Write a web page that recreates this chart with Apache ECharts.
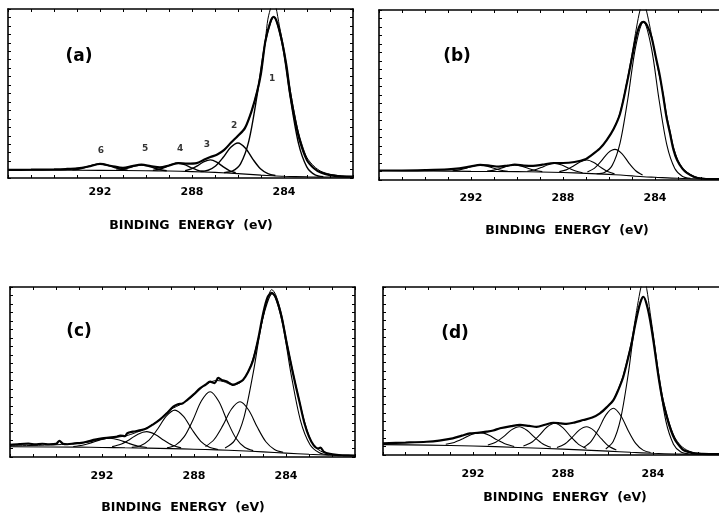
<!DOCTYPE html>
<html>
<head>
<meta charset="utf-8">
<script src="https://cdn.jsdelivr.net/npm/echarts@6/dist/echarts.min.js"></script>
<style>html,body{margin:0;padding:0;background:#fff;}#c{width:719px;height:515px;}</style>
</head>
<body>
<div id="c"></div>
<script>
// ---- Tick labels and texts ----
const tickLabels = [284, 288, 292];
const axisTitle = 'BINDING  ENERGY  (eV)';
const panelNames = ['(a)', '(b)', '(c)', '(d)'];
const peakLabelsA = ['6', '5', '4', '3', '2', '1'];
const peakLabelPosA = [[291.96,16.0],[290.04,17.2],[288.52,17.2],[287.35,19.5],[286.17,30.8],[284.52,58.6]];

// ---- Panel (a) ----
const a_bg = [[296,4.7],[294,4.6],[292,4.5],[290,4.3],[289,4.1],[288,3.8],[287,3.3],[286,2.6],[285,1.7],[284.5,1.3],[284,1.0],[283,0.7],[282,0.6],[281,0.6]];
const a_env = [[296,4.8],[295,4.9],[294,5.1],[293.5,5.3],[293,5.7],[292.5,6.8],[292,8.3],[291.5,7.1],[291,6.0],[290.6,7.0],[290.2,7.9],[289.8,7.1],[289.4,6.3],[289,7.4],[288.6,8.8],[288.2,8.5],[287.8,8.8],[287.5,10.6],[287.2,12.4],[286.9,13.9],[286.6,16.6],[286.3,21],[286,25],[285.7,29.5],[285.4,40],[285.17,51],[285,62],[284.81,81],[284.6,92],[284.45,95.3],[284.3,92],[284.09,81],[283.9,67],[283.73,50],[283.5,33],[283.3,21.5],[283,10.5],[282.7,5.8],[282.4,3.2],[282,1.7],[281.5,1.0],[281,0.8]];
const a_data = [[286,25],[285.7,29.5],[285.4,40],[285.2,50],[285,62],[284.8,83],[284.7,94],[284.55,102],[284.45,105],[284.35,101],[284.2,90],[284,76],[283.8,58],[283.6,42],[283.4,28.5],[283.2,19],[283,12],[282.7,7],[282.4,4],[282,2.2],[281.5,1.2],[281,0.9]];
const a_p1 = [[286.61,3.2],[286.25,4.0],[285.89,8.4],[285.53,21.8],[285.17,48.85],[284.81,80.55],[284.45,95.25],[284.09,80.05],[283.73,47.85],[283.37,20.45],[283.01,6.6],[282.65,1.85],[282.29,0.8]];
const a_p2 = [[287.625,3.85],[287.3,4.6],[286.975,7.1],[286.65,12.1],[286.325,18.05],[286.0,20.7],[285.675,17.55],[285.35,11.05],[285.025,5.5],[284.7,2.6],[284.375,1.45]];
const a_p3 = [[288.3,4.3],[288.025,5.35],[287.75,7.35],[287.475,9.65],[287.2,10.7],[286.925,9.35],[286.65,6.7],[286.375,4.4],[286.1,3.1]];
const a_p4 = [[289.7,4.5],[289.425,5.15],[289.15,6.5],[288.875,8.0],[288.6,8.75],[288.325,7.9],[288.05,6.2],[287.775,4.7],[287.5,3.85]];
const a_p5 = [[291.3,4.6],[291.025,5.1],[290.75,6.05],[290.475,7.2],[290.2,7.7],[289.925,7.1],[289.65,5.9],[289.375,4.9],[289.1,4.3]];
const a_p6 = [[293.2,4.85],[292.9,5.35],[292.6,6.45],[292.3,7.7],[292.0,8.3],[291.7,7.7],[291.4,6.35],[291.1,5.2],[290.8,4.6]];

// ---- Panel (b) ----
const b_bg = [[296,5.5],[294,5.3],[292,5.1],[290,4.9],[289,4.7],[288,4.4],[287,3.9],[286,3.3],[285.5,2.9],[285,2.4],[284.5,1.9],[284,1.6],[283,1.0],[282,0.7],[281,0.6]];
const b_env = [[296,5.6],[295,5.6],[294,5.8],[293,6.2],[292.5,6.8],[292,8.0],[291.6,8.9],[291.2,8.5],[290.8,7.9],[290.4,8.5],[290.1,9.0],[289.7,8.5],[289.3,8.3],[288.9,9.0],[288.4,10.0],[288,10.0],[287.5,10.6],[287,12.4],[286.8,14.2],[286.4,18.5],[286.1,23.5],[285.8,30],[285.52,39],[285.22,57],[285,72],[284.78,86.5],[284.62,92],[284.5,93],[284.35,91],[284.15,84],[283.96,72],[283.8,62],[283.65,50],[283.5,37],[283.35,27.6],[283.2,18],[283.04,11.8],[282.8,6.5],[282.6,4],[282.3,1.8],[282,0.9],[281.5,0.6],[281,0.6]];
const b_data = [[286.1,23.5],[285.8,30],[285.52,39.5],[285.22,58],[285,74],[284.8,90],[284.65,100],[284.52,105],[284.4,101],[284.25,92],[284.05,78],[283.85,64],[283.65,51],[283.5,38.5],[283.35,29],[283.2,19.5],[283.0,11.5],[282.8,7],[282.6,4.5],[282.3,2.2],[282,1.1],[281.5,0.7],[281,0.6]];
const b_p1 = [[286.54,3.7],[286.2,4.4],[285.86,8.6],[285.52,21.7],[285.18,47.8],[284.84,78.5],[284.5,92.9],[284.16,78.0],[283.82,46.9],[283.48,20.3],[283.14,6.75],[282.8,2.1],[282.46,1.0]];
const b_p2 = [[286.94,4.75],[286.64,6.8],[286.34,11.05],[286.04,16.0],[285.74,18.0],[285.44,15.55],[285.14,10.1],[284.84,5.45],[284.54,2.9]];
const b_p3 = [[288.16,4.95],[287.86,5.95],[287.56,8.1],[287.26,10.6],[286.96,11.8],[286.66,10.3],[286.36,7.45],[286.06,5.0],[285.76,3.6]];
const b_p4 = [[289.55,5.1],[289.25,5.85],[288.95,7.3],[288.65,9.0],[288.35,9.8],[288.05,8.85],[287.75,6.9],[287.45,5.25],[287.15,4.3]];
const b_p5 = [[291.3,5.25],[291.0,5.8],[290.7,6.9],[290.4,8.2],[290.1,8.8],[289.8,8.15],[289.5,6.75],[289.2,5.6],[288.9,4.95]];
const b_p6 = [[292.8,5.4],[292.5,5.95],[292.2,7.0],[291.9,8.25],[291.6,8.8],[291.3,8.15],[291.0,6.9],[290.7,5.75],[290.4,5.15]];

// ---- Panel (c) ----
const c_bg = [[296,6.0],[293,5.8],[292,5.6],[291,5.4],[290,5.2],[289,4.9],[288,4.6],[287,4.2],[286,3.7],[285,3.0],[284,2.3],[283,1.6],[282,1.0],[281,0.8]];
const c_data = [[296,7.1],[295.6,7.6],[295.2,7.9],[294.9,7.4],[294.6,7.8],[294.3,7.5],[294.0,7.7],[293.85,9.5],[293.7,7.8],[293.5,7.5],[293.2,8.0],[292.9,8.3],[292.6,9.2],[292.3,10.2],[292.0,11.0],[291.7,11.4],[291.4,11.8],[291.2,12.6],[291.0,12.2],[290.9,14.0],[290.65,14.9],[290.3,15.8],[290.05,16.9],[289.8,19.0],[289.5,21.8],[289.2,25.5],[288.9,29.6],[288.7,31.0],[288.5,31.5],[288.3,33.5],[288.0,37.0],[287.74,40.4],[287.5,42.5],[287.3,44.3],[287.1,43.5],[286.95,46.5],[286.8,45.3],[286.6,44.5],[286.4,43.0],[286.3,42.4],[286.1,43.5],[285.87,45.3],[285.65,50],[285.43,57],[285.2,70],[285.0,84],[284.8,94],[284.62,96.5],[284.45,94],[284.2,83],[283.97,67],[283.7,49.4],[283.4,31.6],[283.2,20],[283.0,12],[282.8,7],[282.6,5.0],[282.5,5.5],[282.35,3.0],[282.1,1.8],[281.8,1.2],[281.5,1.0],[281,0.8]];
const c_env = [[296,6.5],[295,6.8],[294,7.2],[293,8.0],[292.5,9.0],[292,10.5],[291.5,11.5],[291,12.3],[290.5,14.5],[290,17.5],[289.5,22.0],[289,28.0],[288.5,31.5],[288,36.5],[287.6,41.5],[287.3,44.0],[287,45.0],[286.7,44.3],[286.4,42.8],[286.1,43.0],[285.8,46.5],[285.5,55],[285.2,70],[285.0,82],[284.8,93],[284.62,98.5],[284.45,95.5],[284.2,84],[283.97,68],[283.7,50],[283.4,32],[283.2,21],[283.0,12.5],[282.8,7.0],[282.5,3.5],[282.2,2.0],[281.8,1.2],[281,0.8]];
const c_p1 = [[286.65,5.25],[286.24,9.65],[285.83,23.2],[285.42,49.95],[285.01,81.4],[284.6,96],[284.19,80.85],[283.78,48.8],[283.37,21.45],[282.96,7.4],[282.55,2.5],[282.14,1.3]];
const c_p2 = [[287.5,6.1],[287.125,10.3],[286.75,18.45],[286.375,28.1],[286.0,32.5],[285.625,27.65],[285.25,17.6],[284.875,8.95],[284.5,4.45],[284.125,2.75]];
const c_p3 = [[289.175,5.4],[288.8,7.0],[288.425,11.95],[288.05,21.65],[287.675,33.05],[287.3,38.4],[286.925,32.75],[286.55,21.05],[286.175,11.0],[285.8,5.7],[285.425,3.75]];
const c_p4 = [[290.705,5.65],[290.33,6.65],[289.955,9.95],[289.58,16.5],[289.205,24.05],[288.83,27.6],[288.455,23.85],[288.08,16.0],[287.705,9.25],[287.33,5.7],[286.955,4.45]];
const c_p5 = [[291.56,6.1],[291.185,7.45],[290.81,10.2],[290.435,13.45],[290.06,14.9],[289.685,13.25],[289.31,9.85],[288.935,6.9],[288.56,5.35]];
const c_p6 = [[293.25,6.15],[292.85,6.9],[292.45,8.45],[292.05,10.2],[291.65,11.0],[291.25,10.05],[290.85,8.1],[290.45,6.45],[290.05,5.55]];

// ---- Panel (d) ----
const d_bg = [[296,6.2],[294,5.9],[292,5.4],[290,4.5],[288,3.5],[287,2.9],[286,2.3],[285,1.6],[284,1.0],[283,0.6],[282,0.45],[281,0.4]];
const d_env = [[296,7.0],[295,7.4],[294.06,7.9],[293.5,8.6],[292.9,9.9],[292.5,11.5],[292.13,12.9],[291.8,13.2],[291.4,13.9],[291.1,14.6],[290.8,15.9],[290.3,17.2],[289.91,17.9],[289.5,17.3],[289.17,16.8],[288.8,18.0],[288.43,19.2],[288.1,18.8],[287.84,18.5],[287.5,19.3],[287.1,20.8],[286.7,22.3],[286.36,24.8],[286.05,28.5],[285.76,32.7],[285.55,38.5],[285.32,46.6],[285.1,58],[284.95,66.5],[284.8,77],[284.65,86.3],[284.53,92],[284.43,94.2],[284.3,90.5],[284.13,80.4],[283.95,65],[283.76,47],[283.58,33],[283.39,22.8],[283.2,14.5],[283.02,8.9],[282.8,5.0],[282.65,3.0],[282.4,1.7],[282.2,1.0],[281.8,0.7],[281,0.5]];
const d_data = [[286.05,28.5],[285.76,33],[285.55,39],[285.32,47.5],[285.1,59],[284.95,68],[284.8,80],[284.65,92],[284.5,102],[284.4,105],[284.28,99],[284.13,85],[283.95,68],[283.76,49.5],[283.58,35],[283.39,24.5],[283.2,16],[283.02,10.2],[282.8,6],[282.6,3.8],[282.4,2.3],[282.1,1.2],[281.6,0.7],[281,0.5]];
const d_p1 = [[286.1,3.55],[285.77,8.0],[285.44,21.45],[285.1,48.2],[284.77,79.6],[284.43,94.2],[284.1,79.15],[283.76,47.35],[283.43,20.25],[283.09,6.45],[282.76,1.75],[282.42,0.7]];
const d_p2 = [[287.08,4.5],[286.75,8.1],[286.42,15.35],[286.09,23.85],[285.76,27.8],[285.43,23.4],[285.1,14.5],[284.77,6.9],[284.44,2.9],[284.11,1.45]];
const d_p3 = [[288.27,4.5],[287.94,6.35],[287.61,10.25],[287.28,14.8],[286.95,16.8],[286.62,14.5],[286.29,9.55],[285.96,5.2],[285.63,3.0]];
const d_p4 = [[289.76,5.35],[289.41,7.4],[289.06,11.65],[288.71,16.65],[288.36,18.9],[288.01,16.3],[287.66,10.95],[287.31,6.35],[286.96,3.9]];
const d_p5 = [[291.34,5.9],[290.99,7.6],[290.64,10.95],[290.29,14.95],[289.94,16.8],[289.59,14.6],[289.24,10.25],[288.89,6.6],[288.54,4.55]];
const d_p6 = [[293.21,6.4],[292.83,7.5],[292.45,9.65],[292.07,12.2],[291.69,13.3],[291.31,11.9],[290.93,9.0],[290.55,6.5],[290.17,5.1]];

// ---- layout ----
const FONT = '"DejaVu Sans", "Liberation Sans", Arial, sans-serif';
const grids = [
  {left: 8, top: 9, width: 345, height: 169},
  {left: 379, top: 10, width: 345, height: 170},
  {left: 10, top: 287, width: 345, height: 170},
  {left: 383, top: 287, width: 337.5, height: 168}
];
const showRightAxis = [true, false, true, false];
const labelMargins = [9, 13, 14, 14];
const titlePos = [[191, 226], [567, 231], [183, 508], [565, 498]];
const namePos = [[79, 57], [457, 57], [79, 332], [455, 334]];

const xAxes = [], yAxes = [];
grids.forEach((g, i) => {
  const common = {
    gridIndex: i, type: 'value', inverse: true, min: 281, max: 296, interval: 1,
    axisLine: {onZero: false, lineStyle: {color: '#000', width: 1.6}},
    axisTick: {inside: true, length: 3, lineStyle: {color: '#000', width: 1}},
    splitLine: {show: false}
  };
  xAxes.push(Object.assign({}, common, {
    position: 'bottom',
    axisLabel: {
      margin: labelMargins[i], color: '#000', fontSize: 11, fontWeight: 'bold', fontFamily: FONT,
      formatter: v => tickLabels.indexOf(v) >= 0 ? String(v) : ''
    }
  }));
  xAxes.push(Object.assign({}, common, {position: 'top', axisLabel: {show: false}}));
  const yc = {
    gridIndex: i, type: 'value', min: 0, max: 100, interval: 5,
    axisLine: {show: true, onZero: false, lineStyle: {color: '#000', width: 1.6}},
    axisTick: {show: true, inside: true, length: 3, lineStyle: {color: '#000', width: 1}},
    axisLabel: {show: false}, splitLine: {show: false}
  };
  yAxes.push(Object.assign({}, yc, {position: 'left'}));
  yAxes.push(Object.assign({}, yc, {position: 'right', show: showRightAxis[i]}));
});

function ln(i, data, width) {
  return {
    type: 'line', xAxisIndex: 2 * i, yAxisIndex: 2 * i, data: data,
    symbol: 'none', showSymbol: false, smooth: 0.3, clip: true, silent: true,
    lineStyle: {color: '#000', width: width}
  };
}

const panels = [
  {bg: a_bg, thick: a_env, thin: a_data, comps: [a_p1, a_p2, a_p3, a_p4, a_p5, a_p6]},
  {bg: b_bg, thick: b_env, thin: b_data, comps: [b_p1, b_p2, b_p3, b_p4, b_p5, b_p6]},
  {bg: c_bg, thick: c_data, thin: c_env, comps: [c_p1, c_p2, c_p3, c_p4, c_p5, c_p6]},
  {bg: d_bg, thick: d_env, thin: d_data, comps: [d_p1, d_p2, d_p3, d_p4, d_p5, d_p6]}
];
const series = [];
panels.forEach((p, i) => {
  series.push(ln(i, p.bg, 1.1));
  p.comps.forEach(cp => series.push(ln(i, cp, i === 0 ? 1.4 : 1.1)));
  series.push(ln(i, p.thin, 1.0));
  series.push(ln(i, p.thick, 2.2));
});
series.push({
  type: 'scatter', xAxisIndex: 0, yAxisIndex: 0, symbolSize: 0, silent: true,
  data: peakLabelsA.map((t, k) => ({name: t, value: peakLabelPosA[k]})),
  label: {show: true, position: 'inside', formatter: p => p.name, color: '#000',
          fontSize: 9, fontWeight: 'bold', fontFamily: FONT}
});

const graphics = [];
titlePos.forEach(pt => graphics.push({
  type: 'text', x: pt[0], y: pt[1], silent: true,
  style: {text: axisTitle, fill: '#000', font: 'bold 12.5px ' + FONT, align: 'center', verticalAlign: 'middle'}
}));
namePos.forEach((pt, i) => graphics.push({
  type: 'text', x: pt[0], y: pt[1], silent: true,
  style: {text: panelNames[i], fill: '#000', font: 'bold 17px ' + FONT, align: 'center', verticalAlign: 'middle'}
}));

const chart = echarts.init(document.getElementById('c'), null, {renderer: 'canvas'});
chart.setOption({
  animation: false,
  backgroundColor: '#fff',
  grid: grids.map(g => Object.assign({containLabel: false, outerBoundsMode: 'none'}, g)),
  xAxis: xAxes, yAxis: yAxes, series: series, graphic: graphics
});
</script>
</body>
</html>
